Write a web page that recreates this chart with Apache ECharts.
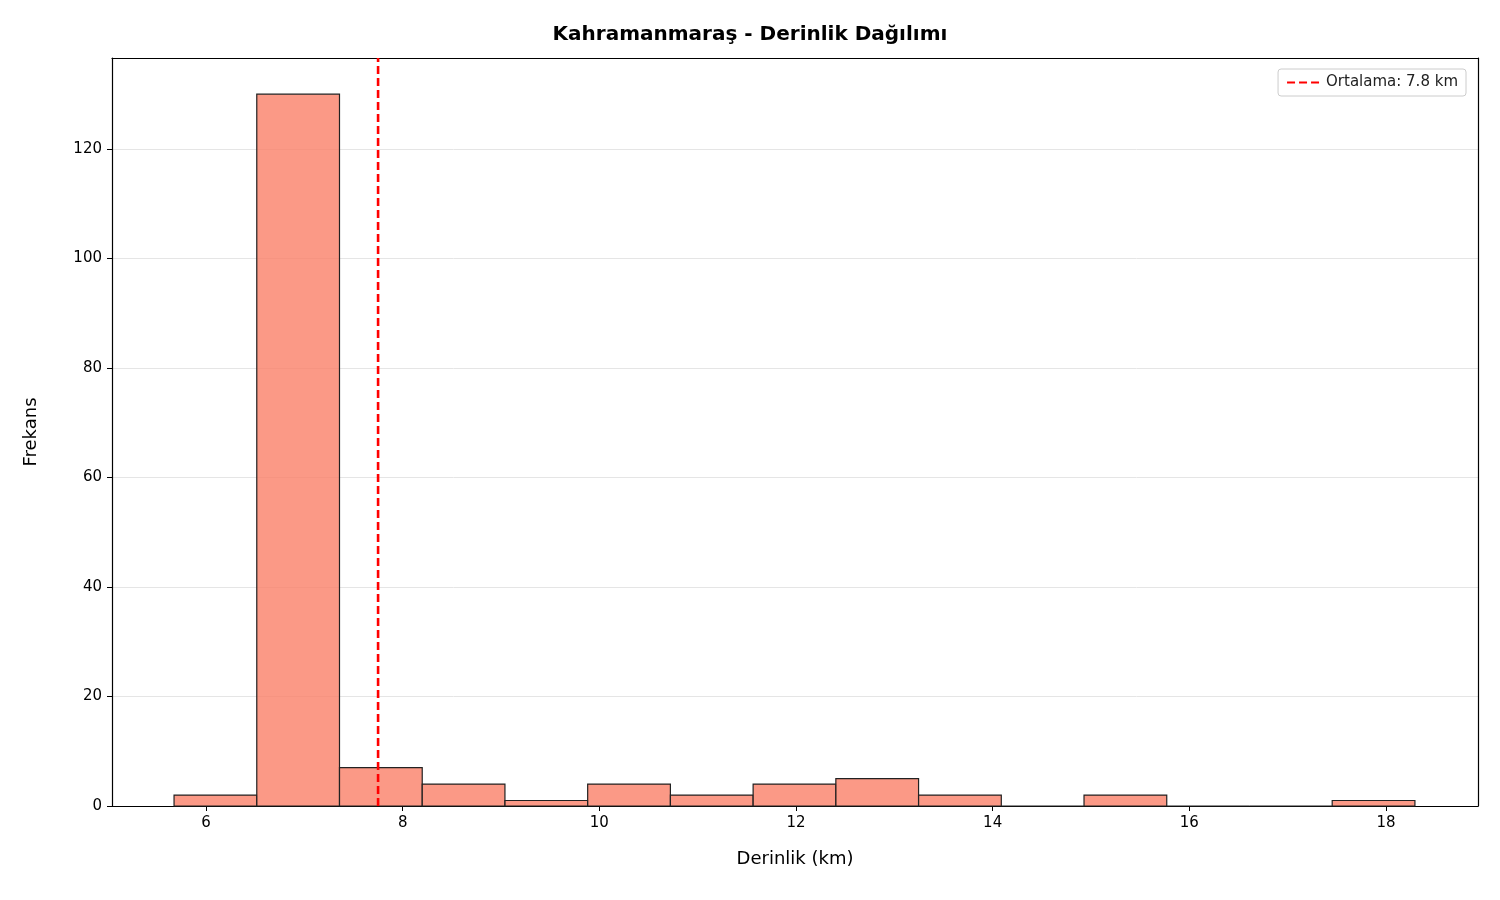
<!DOCTYPE html>
<html><head><meta charset="utf-8">
<script src="https://cdn.jsdelivr.net/npm/echarts@6/dist/echarts.min.js"></script>
<style>html,body{margin:0;padding:0;background:#fff}#c{width:1500px;height:900px}</style>
</head><body><div id="c"></div>
<script>
const binStart = 5.675;
const binWidth = 0.8413;
const counts = [2,130,7,4,1,4,2,4,5,2,0,2,0,0,1];
const meanDepth = 7.75;
const xTicks = [6,8,10,12,14,16,18];

const bins = counts.map((c,i)=>[binStart+i*binWidth, binStart+(i+1)*binWidth, c]);
const chart = echarts.init(document.getElementById('c'));
const F = 'DejaVu Sans';
const XMIN=5.044, XMAX=18.936, YMAX=136.6;
chart.setOption({
  animation:false,
  textStyle:{fontFamily:F},
  title:{text:'Kahramanmaraş - Derinlik Dağılımı',left:'center',top:20,
    textStyle:{fontFamily:F,fontSize:20,fontWeight:'bold',color:'#000'}},
  grid:{left:112,right:22,top:58,bottom:94},
  legend:{right:34,top:69,orient:'vertical',data:['Ortalama: 7.8 km'],
    itemWidth:34,itemHeight:10,itemStyle:{opacity:0},
    textStyle:{fontFamily:F,fontSize:15,color:'#222'},
    borderColor:'#ccc',borderWidth:1,borderRadius:3,padding:[6,8]},
  xAxis:[{type:'value',min:XMIN,max:XMAX,
    name:'Derinlik (km)',nameLocation:'middle',nameGap:44,
    nameTextStyle:{fontSize:18,color:'#000',fontFamily:F},
    axisLine:{show:true,onZero:false,lineStyle:{color:'#000',width:1.2}},
    splitLine:{show:false},
    axisLabel:{color:'#000',fontSize:15,margin:10,customValues:xTicks},
    axisTick:{show:true,length:5,customValues:xTicks,lineStyle:{color:'#000'}}
  },{type:'value',min:XMIN,max:XMAX,position:'top',
    axisLine:{show:true,onZero:false,lineStyle:{color:'#000',width:1.2}},
    axisTick:{show:false},axisLabel:{show:false},splitLine:{show:false}}],
  yAxis:[{type:'value',min:0,max:YMAX,interval:20,
    name:'Frekans',nameLocation:'middle',nameGap:72,
    nameTextStyle:{fontSize:18,color:'#000',fontFamily:F},
    axisLine:{show:true,lineStyle:{color:'#000',width:1.2}},
    axisTick:{show:true,length:5,lineStyle:{color:'#000'}},
    axisLabel:{color:'#000',fontSize:15,margin:10,showMaxLabel:false},
    splitLine:{show:true,lineStyle:{color:'#e5e5e5',width:1}}
  },{type:'value',min:0,max:YMAX,position:'right',
    axisLine:{show:true,onZero:false,lineStyle:{color:'#000',width:1.2}},
    axisTick:{show:false},axisLabel:{show:false},splitLine:{show:false}}],
  series:[
    {type:'custom',name:'hist',data:bins,
      renderItem:(params,api)=>{
        const p0=api.coord([api.value(0),0]);
        const p1=api.coord([api.value(1),api.value(2)]);
        return {type:'rect',shape:{x:p0[0],y:p1[1],width:p1[0]-p0[0],height:p0[1]-p1[1]},
          style:{fill:'rgba(250,128,104,0.8)',stroke:'#222',lineWidth:1.2}};
      },
      encode:{x:[0,1],y:2}},
    {type:'line',name:'Ortalama: 7.8 km',data:[[meanDepth,0],[meanDepth,YMAX]],
      symbol:'none',z:5,
      lineStyle:{color:'#ff0000',width:2.6,type:[8,4]},itemStyle:{color:'#ff0000'}}
  ]
});
</script></body></html>
